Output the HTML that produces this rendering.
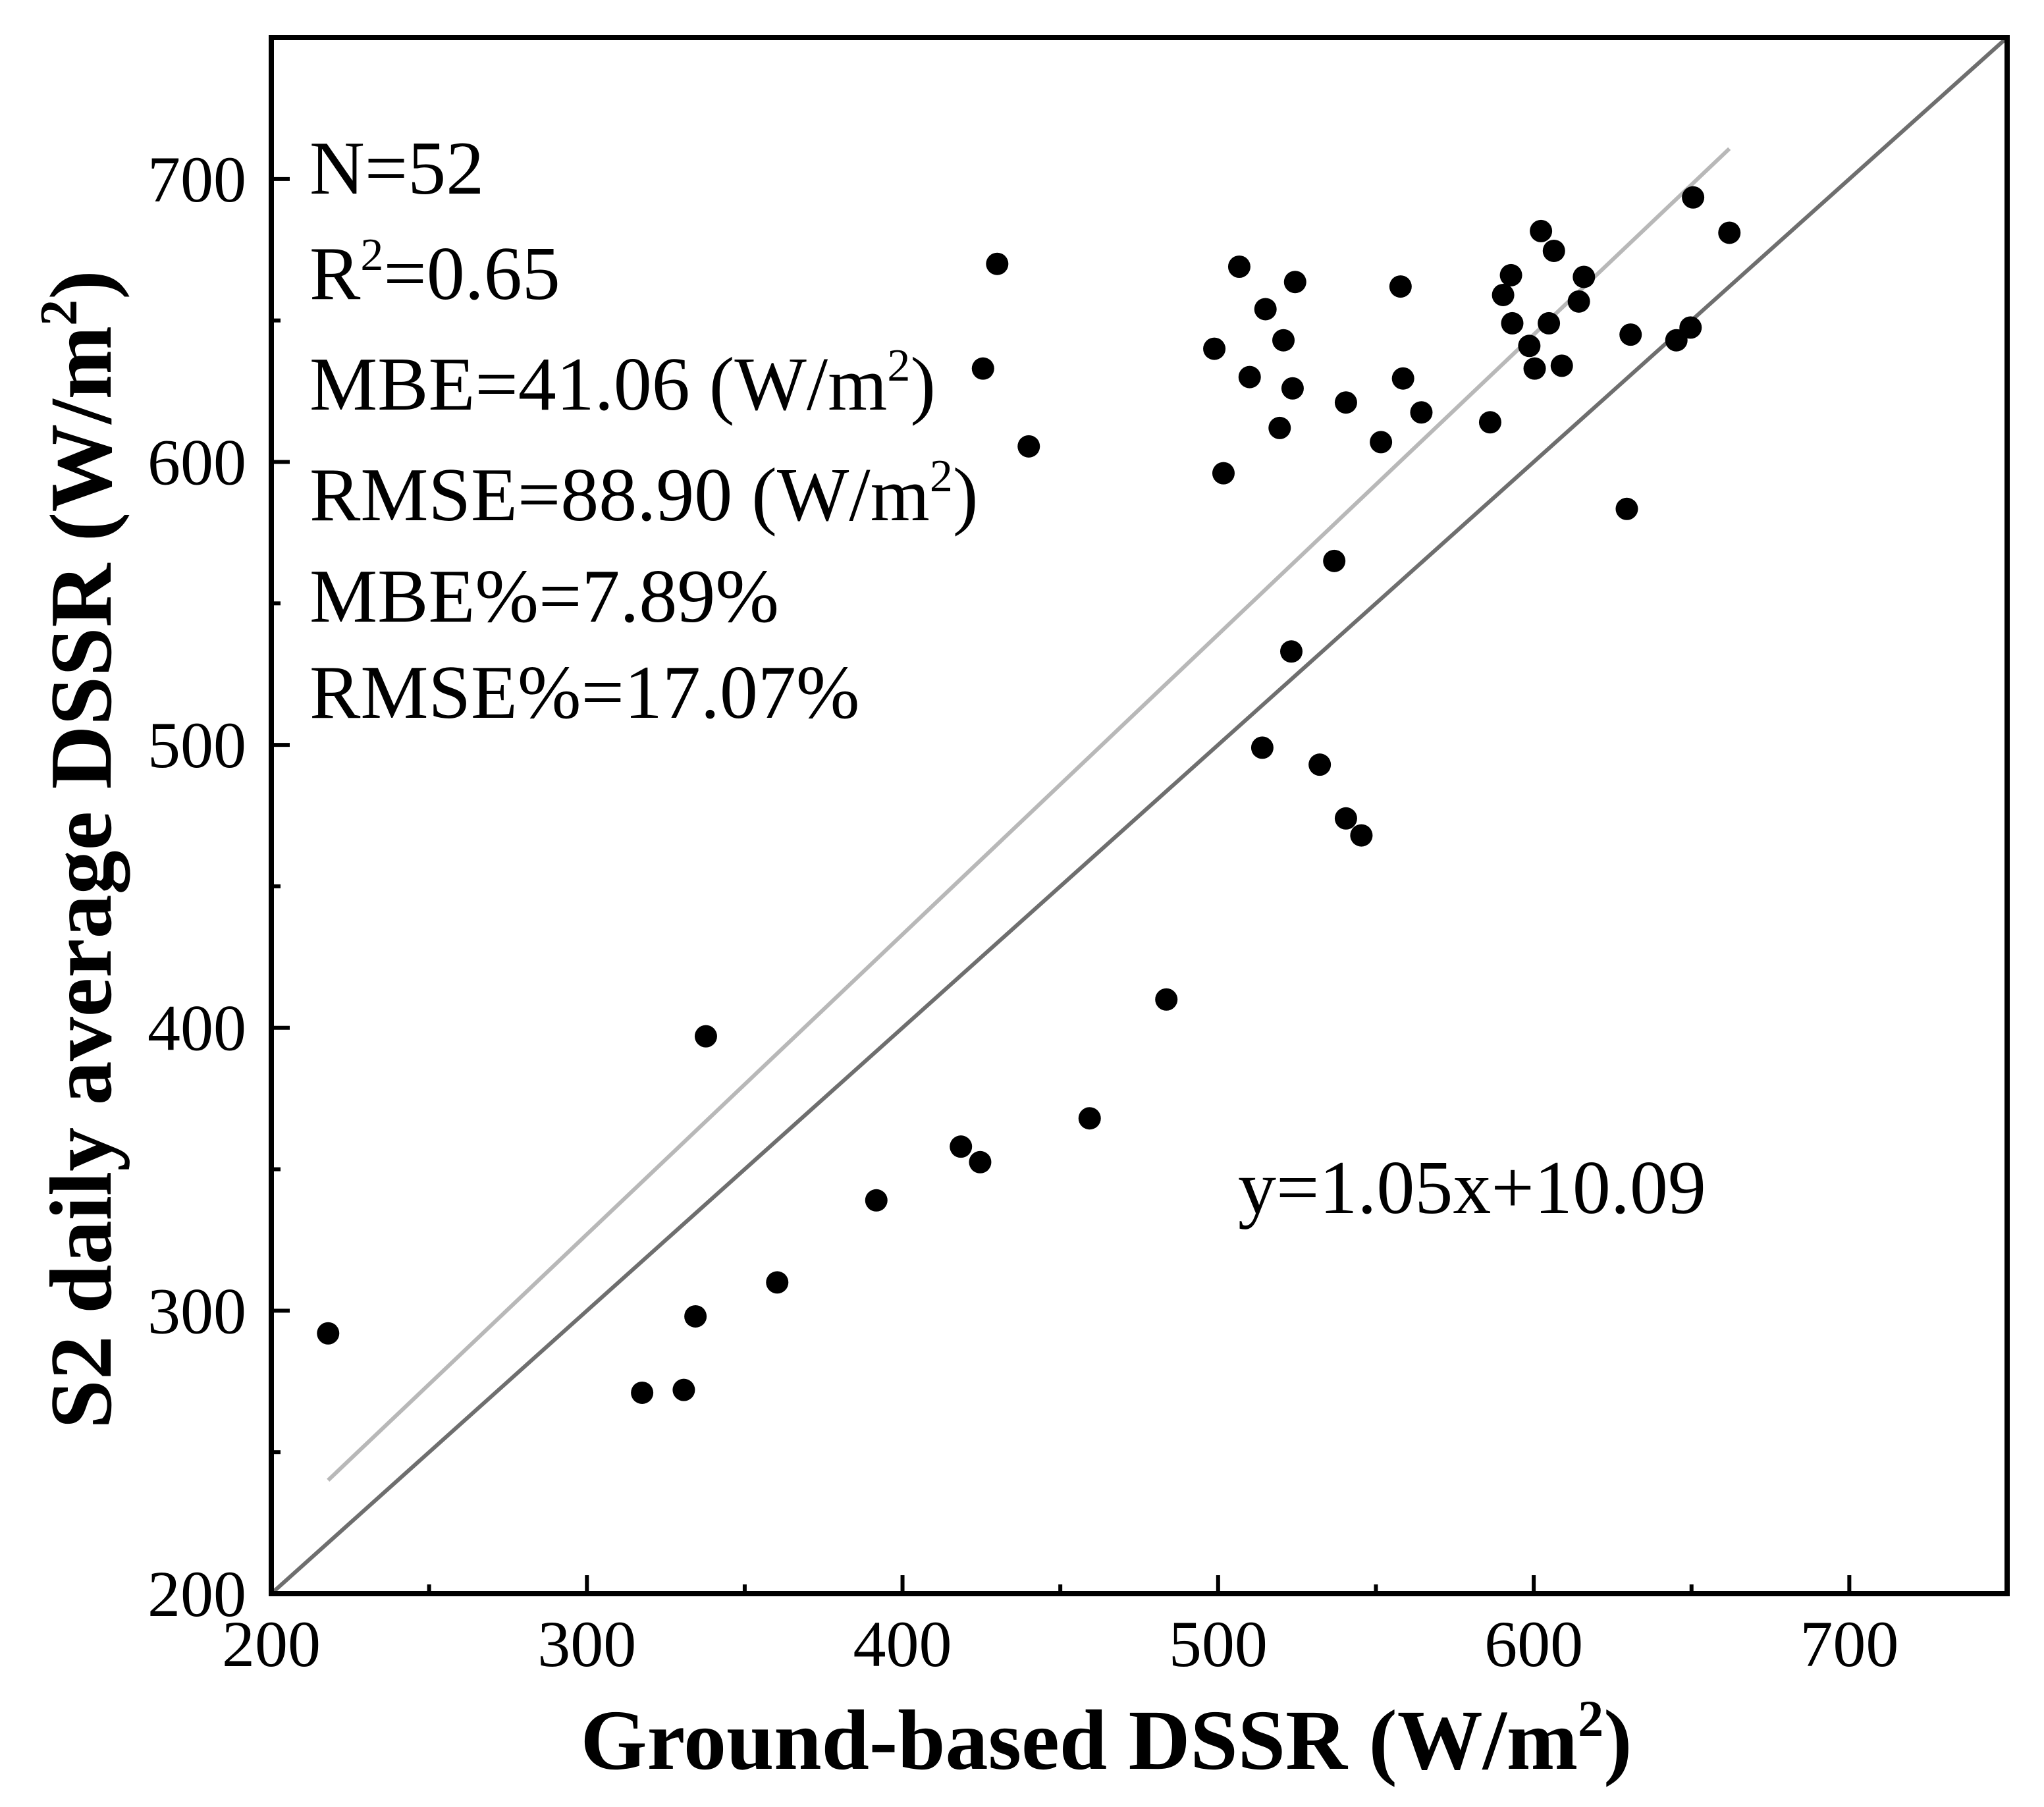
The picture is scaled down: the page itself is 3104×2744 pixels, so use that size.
<!DOCTYPE html>
<html><head><meta charset="utf-8">
<style>
html,body{margin:0;padding:0;background:#fff;}
svg{display:block;font-family:"Liberation Serif",serif;}
</style></head>
<body>
<svg id="chart" width="3104" height="2744" viewBox="0 0 3104 2744" xmlns="http://www.w3.org/2000/svg">
<g id="plot"></g>
<g id="stats" font-size="116" fill="#000">
  <text x="470" y="294">N=52</text>
  <text x="470" y="454">R<tspan font-size="70" dy="-44">2</tspan><tspan dy="44">=0.65</tspan></text>
  <text x="470" y="622">MBE=41.06 (W/m<tspan font-size="70" dy="-44">2</tspan><tspan dy="44">)</tspan></text>
  <text x="470" y="790">RMSE=88.90 (W/m<tspan font-size="70" dy="-44">2</tspan><tspan dy="44">)</tspan></text>
  <text x="470" y="944">MBE%=7.89%</text>
  <text x="470" y="1090">RMSE%=17.07%</text>
</g>
<text x="1880" y="1842" font-size="116">y=1.05x+10.09</text>
<text x="1680" y="2686" font-size="130" font-weight="bold" text-anchor="middle">Ground-based DSSR (W/m<tspan font-size="78" dy="-50">2</tspan><tspan dy="50">)</tspan></text>
<text transform="translate(168,1290) rotate(-90)" font-size="134" font-weight="bold" text-anchor="middle">S2 daily average DSSR (W/m<tspan font-size="80" dy="-52">2</tspan><tspan dy="52">)</tspan></text>
</svg>
<script>
const xs = [218,317.5,330.7,334.4,337.7,360.3,391.7,418.5,424.6,459.3,483.6,425.5,430,440,498.8,501.7,506.7,510,515,514,519.5,520.7,523.6,523.2,524.4,532.2,536.8,540.5,540.5,545.4,551.6,557.8,558.6,564.4,586.2,590.3,592.8,593.2,598.6,600.3,602.3,604.8,606.4,608.9,614.3,615.9,629.5,630.7,645.2,649.7,650.5,662];
const ys = [292,271,272,298,397,310,339,358,352.5,368,410,633,670,605.5,640,596,669,630,654,499,612,643,626,533,663.6,493,565,621,474,468,607,662,629.5,617.5,614,659,666,649,641,633,681.6,649,674.6,634,656.7,665.4,583.4,645,643,647.5,693.5,681];
const xTicks = [200,300,400,500,600,700];
const yTicks = [200,300,400,500,600,700];
const fitSlope = [1.06];
const fitIntercept = [9];
const fitRange = [218,662];

const L=412, R=3048, T=57, B=2420, D0=200, D1=750;
const sx = v => L + (v-D0)/(D1-D0)*(R-L);
const sy = v => B - (v-D0)/(D1-D0)*(B-T);
const NS="http://www.w3.org/2000/svg";
const plot=document.getElementById('plot');
function mk(tag, attrs){const e=document.createElementNS(NS,tag);for(const k in attrs)e.setAttribute(k,attrs[k]);plot.appendChild(e);return e;}

let e=mk('line',{x1:sx(200),y1:sy(200),x2:sx(750),y2:sy(750),stroke:'#6e6e6e','stroke-width':6});


e=mk('line',{x1:sx(fitRange[0]),y1:sy(fitSlope[0]*fitRange[0]+fitIntercept[0]),x2:sx(fitRange[1]),y2:sy(fitSlope[0]*fitRange[1]+fitIntercept[0]),stroke:'#b8b8b8','stroke-width':6});



for(let i=0;i<xs.length;i++){
  const c=mk('circle',{cx:sx(xs[i]),cy:sy(ys[i]),r:17,fill:'#000'});
  
  
}

for(let i=0;i<xTicks.length;i++){
  const v=xTicks[i];
  const t=mk('line',{x1:sx(v),y1:B,x2:sx(v),y2:B-28,stroke:'#000','stroke-width':6});
  
  
  const m=mk('line',{x1:sx(v+50),y1:B,x2:sx(v+50),y2:B-14,stroke:'#000','stroke-width':6});
  
  
  const lb=mk('text',{x:sx(v),y:2530,'font-size':100,'text-anchor':'middle'});
  lb.textContent=v;
  
  
}
for(let i=0;i<yTicks.length;i++){
  const v=yTicks[i];
  const t=mk('line',{x1:L,y1:sy(v),x2:L+28,y2:sy(v),stroke:'#000','stroke-width':6});
  
  
  const m=mk('line',{x1:L,y1:sy(v+50),x2:L+14,y2:sy(v+50),stroke:'#000','stroke-width':6});
  
  
  const lb=mk('text',{x:374,y:sy(v)+34,'font-size':100,'text-anchor':'end'});
  lb.textContent=v;
  
  
}
e=mk('rect',{x:L,y:T,width:R-L,height:B-T,fill:'none',stroke:'#000','stroke-width':8});


</script>
</body></html>
